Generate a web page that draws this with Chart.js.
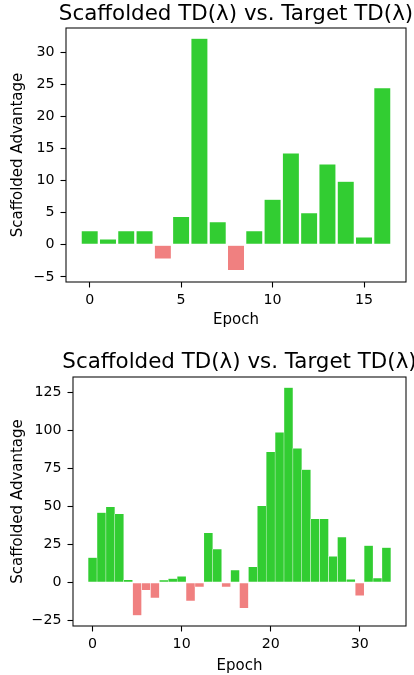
<!DOCTYPE html>
<html>
<head>
<meta charset="utf-8">
<script src="https://cdn.jsdelivr.net/npm/chart.js@4"></script>
<style>
  html, body { margin: 0; padding: 0; background: #fff; }
  body { width: 414px; height: 675px; position: relative; overflow: hidden; }
  .box { position: absolute; left: 0; width: 414px; }
</style>
</head>
<body>
<div class="box" style="top:0;height:338px"><canvas id="top"></canvas></div>
<div class="box" style="top:338px;height:337px"><canvas id="bottom"></canvas></div>
<script>
// first run, 17 epochs
const epochsA = [0, 1, 2, 3, 4, 5, 6, 7, 8, 9, 10, 11, 12, 13, 14, 15, 16];
const advantageA = [2.2, 0.9, 2.2, 2.2, -2.2, 4.4, 32.2, 3.6, -4.0, 2.2, 7.1, 14.3, 5.0, 12.6, 9.9, 1.2, 24.5];
const yTicksA = [-5, 0, 5, 10, 15, 20, 25, 30];
const xTicksA = [0, 5, 10, 15];

// second run, 34 epochs
const epochsB = [0, 1, 2, 3, 4, 5, 6, 7, 8, 9, 10, 11, 12, 13, 14, 15, 16,
  17, 18, 19, 20, 21, 22, 23, 24, 25, 26, 27, 28, 29, 30, 31, 32, 33];
const advantageB = [16.3, 46.0, 49.7, 45.1, 1.8, -21.6, -5.1, -10.1, 1.5, 2.6, 4.0, -12.1, -2.9, 32.6, 22.0, -2.9, 8.1,
  -16.9, 10.3, 50.4, 85.8, 98.6, 128.1, 88.2, 74.2, 41.8, 41.8, 17.2, 29.9, 2.0, -8.6, 24.2, 2.9, 22.9];
const yTicksB = [-25, 0, 25, 50, 75, 100, 125];
const xTicksB = [0, 10, 20, 30];

const titleText = 'Scaffolded TD(\u03bb) vs. Target TD(\u03bb)';
const FONT = 'DejaVu Sans';

// matplotlib-ish frame + title
const framePlugin = {
  id: 'frame',
  afterDraw(chart, args, opts) {
    const a = chart.chartArea, ctx = chart.ctx;
    ctx.save();
    ctx.strokeStyle = '#111';
    ctx.lineWidth = 1.1;
    ctx.strokeRect(a.left, a.top, a.right - a.left, a.bottom - a.top);
    ctx.fillStyle = '#000';
    ctx.font = '21.4px "' + FONT + '"';
    ctx.textAlign = 'center';
    ctx.textBaseline = 'alphabetic';
    ctx.fillText(titleText, (a.left + a.right) / 2, a.top - opts.gap);
    ctx.restore();
  }
};

function minus(v) {
  return String(v).replace('-', '\u2212');
}

function makeChart(id, epochs, values, xTicks, yTicks, opts) {
  const ctx = document.getElementById(id).getContext('2d');
  return new Chart(ctx, {
    type: 'bar',
    data: {
      datasets: [{
        data: epochs.map((e, i) => ({ x: e, y: values[i] })),
        backgroundColor: values.map(v => v >= 0 ? '#32cd32' : '#f08080'),
        borderColor: '#ffffff',
        borderWidth: 0.5,
        borderSkipped: false,
        barPercentage: opts.barPct,
        categoryPercentage: 1.0
      }]
    },
    options: {
      responsive: true,
      maintainAspectRatio: false,
      animation: false,
      layout: { padding: { top: opts.top, right: 8, left: 0, bottom: opts.bottom } },
      plugins: {
        legend: { display: false },
        tooltip: { enabled: false },
        title: { display: false },
        frame: { gap: opts.titleGap }
      },
      scales: {
        x: {
          type: 'linear',
          offset: false,
          min: opts.xMin,
          max: opts.xMax,
          afterBuildTicks: s => { s.ticks = xTicks.map(v => ({ value: v })); },
          afterFit: s => { s.height = opts.xHeight; },
          ticks: { color: '#000', font: { family: FONT, size: 14.2 }, padding: 4, maxRotation: 0, callback: v => minus(v) },
          grid: { offset: false, drawOnChartArea: false, drawTicks: true, tickLength: 5.5, tickColor: '#000', tickWidth: 1.1 },
          border: { display: false },
          title: { display: true, text: 'Epoch', color: '#000', font: { family: FONT, size: 15 }, padding: { top: 2, bottom: 0 } }
        },
        y: {
          min: opts.yMin,
          max: opts.yMax,
          afterBuildTicks: s => { s.ticks = yTicks.map(v => ({ value: v })); },
          afterFit: s => { s.width = opts.yWidth; },
          ticks: { color: '#000', font: { family: FONT, size: 14.2 }, padding: 6, callback: v => minus(v) },
          grid: { offset: false, drawOnChartArea: false, drawTicks: true, tickLength: 5.5, tickColor: '#000', tickWidth: 1.1 },
          border: { display: false },
          title: { display: true, text: 'Scaffolded Advantage', color: '#000', font: { family: FONT, size: 15 }, padding: { top: 9, bottom: 0 } }
        }
      }
    },
    plugins: [framePlugin]
  });
}

makeChart('top', epochsA, advantageA, xTicksA, yTicksA, {
  barPct: 0.93, xMin: -1.295, xMax: 17.295, yMin: -5.8, yMax: 33.8,
  top: 28, bottom: 9, xHeight: 47, yWidth: 66, titleGap: 8.5
});

makeChart('bottom', epochsB, advantageB, xTicksB, yTicksB, {
  barPct: 1.0, xMin: -2.2, xMax: 35.2, yMin: -28.6, yMax: 135,
  top: 39, bottom: 0, xHeight: 49, yWidth: 73, titleGap: 9
});
</script>
</body>
</html>
